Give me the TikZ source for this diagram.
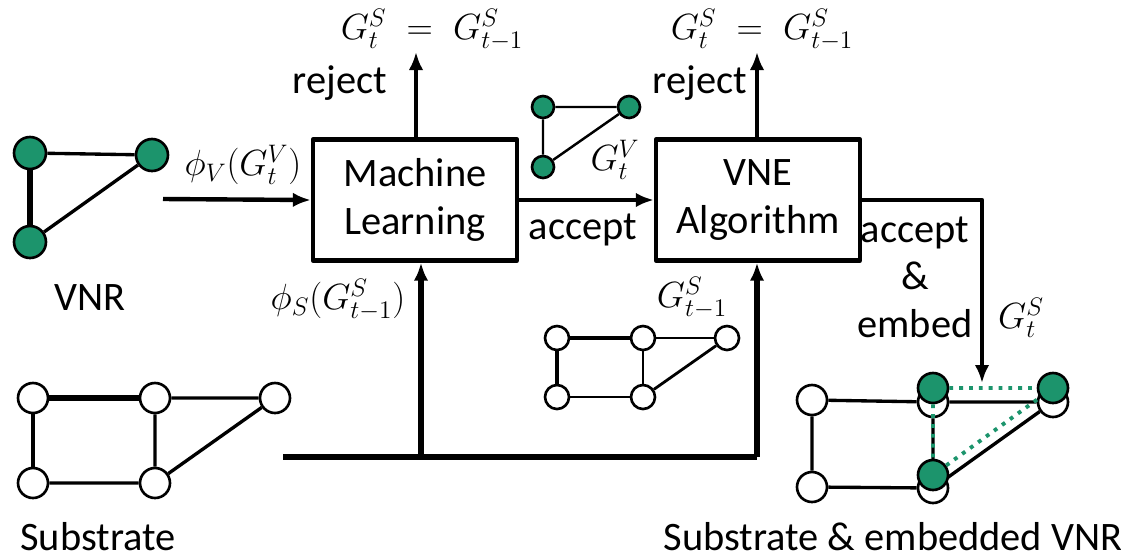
\documentclass[tikz,border=0pt]{standalone}
\usepackage{fontspec}
\setmainfont{Carlito}
\usetikzlibrary{arrows.meta}
\definecolor{vnrgreen}{RGB}{28,148,108}
\tikzset{
	box/.style={draw, line width=2.5pt, minimum width=4.08cm, minimum height=2.42cm, align=center, inner sep=0pt},
	vnode/.style={circle, draw, line width=1.5pt, fill=vnrgreen, inner sep=0pt, minimum size=#1},
	snode/.style={circle, draw, line width=1.5pt, fill=white, inner sep=0pt, minimum size=#1},
	lbl/.style={font=\fontsize{23}{27}\selectfont, inner sep=0pt},
	mlbl/.style={font=\fontsize{21}{25}\selectfont, inner sep=0pt},
	flow/.style={->, line width=2.2pt},
	embline/.style={vnrgreen, line width=2.2pt, dash pattern=on 2.2pt off 3.4pt}
}
\begin{document}
\begin{tikzpicture}[x=0.02cm, y=-0.02cm, >={Latex[length=0.36cm,width=0.29cm]}, line join=round, font=\fontsize{23}{27}\selectfont]
			\useasboundingbox (0,0) rectangle (1121,556);
			% boxes
			\node[box] (ml) at (415,200) {Machine\\Learning};
			\node[box] (vne) at (758,200) {VNE\\Algorithm};
			\coordinate (mlout) at (416,52);
			\coordinate (vneout) at (757,52);
			\coordinate (vnrin) at (163,199);
			\coordinate (emb) at (982,383);
			\coordinate (feedA) at (283,457);
			\coordinate (feedB) at (421,457);
			\coordinate (feedC) at (757,457);
			\draw[flow, line width=2.5pt] (vnrin)--(ml.west);
			\draw[flow] (ml.north -| mlout)--(mlout);
			\draw[flow] (vne.north -| vneout)--(vneout);
			\draw[flow, line width=2.5pt] (ml.east)--(vne.west);
			\draw[flow, line width=2.5pt] (vne.east)-|(emb);
			\draw[line width=3pt] (feedA)--(feedC);
			\draw[flow, line width=3pt] (feedB)--(feedB |- ml.south);
			\draw[flow, line width=3pt] (feedC)--(feedC |- vne.south);
			% labels
			\node[mlbl] (phiv) at (243,165) {$\phi_V(G_t^V)$};
			\node[mlbl] (phis) at (338,300) {$\phi_S(G_{t-1}^S)$};
			\node[mlbl] (eqml) at (432,30) {$G_t^S\;=\;G_{t-1}^S$};
			\node[mlbl] (eqvne) at (762,30) {$G_t^S\;=\;G_{t-1}^S$};
			\node[mlbl] (gtv) at (615,160) {$G_t^V$};
			\node[mlbl] (gts) at (1021,318) {$G_t^S$};
			\node[mlbl] (gtsold) at (692,298) {$G_{t-1}^S$};
			\node[lbl] (rejml) at (340,83) {reject};
			\node[lbl] (rejvne) at (700,83) {reject};
			\node[lbl] (acc) at (583,230) {accept};
			\node[lbl, align=center] (accemb) at (915,277) {accept\\\&\\embed};
			\node[lbl, anchor=base] (vnrtxt) at (90,310) {VNR};
			\node[lbl, anchor=base] (subtxt) at (98,550) {Substrate};
			\node[lbl, anchor=base] (embtxt) at (893,550) {Substrate \& embedded VNR};
			% VNR
			\node[vnode=0.64cm] (v1) at (30,153) {};
			\node[vnode=0.64cm] (v2) at (152,155) {};
			\node[vnode=0.64cm] (v3) at (30,242) {};
			\draw[line width=1.9pt] (v1)--(v2) (v3)--(v2);
			\draw[line width=3pt] (v1)--(v3);
			% small VNR
			\node[vnode=0.44cm] (g1) at (543,107) {};
			\node[vnode=0.44cm] (g2) at (629,107) {};
			\node[vnode=0.44cm] (g3) at (543,167) {};
			\draw[line width=1.4pt] (g1)--(g2) (g1)--(g3) (g3)--(g2);
			% substrate
			\node[snode=0.6cm] (s1) at (33,398) {};
			\node[snode=0.6cm] (s2) at (155,398) {};
			\node[snode=0.6cm] (s3) at (275,398) {};
			\node[snode=0.6cm] (s4) at (33,483) {};
			\node[snode=0.6cm] (s5) at (155,483) {};
			\draw[line width=3.2pt] (s1)--(s2);
			\draw[line width=2.6pt] (s1)--(s4);
			\draw[line width=1.9pt] (s2)--(s3) (s2)--(s5) (s4)--(s5) (s5)--(s3);
			% small substrate
			\node[snode=0.48cm] (p1) at (557,338) {};
			\node[snode=0.48cm] (p2) at (643,338) {};
			\node[snode=0.48cm] (p3) at (727,338) {};
			\node[snode=0.48cm] (p4) at (557,397) {};
			\node[snode=0.48cm] (p5) at (643,397) {};
			\draw[line width=2pt] (p1)--(p2) (p1)--(p4);
			\draw[line width=1.6pt] (p5)--(p3);
			\draw[line width=1.1pt] (p2)--(p3) (p2)--(p5) (p4)--(p5);
			% substrate with embedded VNR
			\node[snode=0.6cm] (e1) at (812,400) {};
			\node[snode=0.6cm] (e2) at (933,402) {};
			\node[snode=0.6cm] (e3) at (1053,402) {};
			\node[snode=0.6cm] (e4) at (812,487) {};
			\node[snode=0.6cm] (e5) at (933,488) {};
			\draw[line width=1.9pt] (e1)--(e2)--(e3) (e1)--(e4)--(e5)--(e3) (e2)--(e5);
			\node[vnode=0.6cm] (f1) at (933,388) {};
			\node[vnode=0.6cm] (f2) at (1053,388) {};
			\node[vnode=0.6cm] (f3) at (933,475) {};
			\draw[embline] (f1)--(f2) (f1)--(f3) (f3)--(f2);
		\end{tikzpicture}
\end{document}
